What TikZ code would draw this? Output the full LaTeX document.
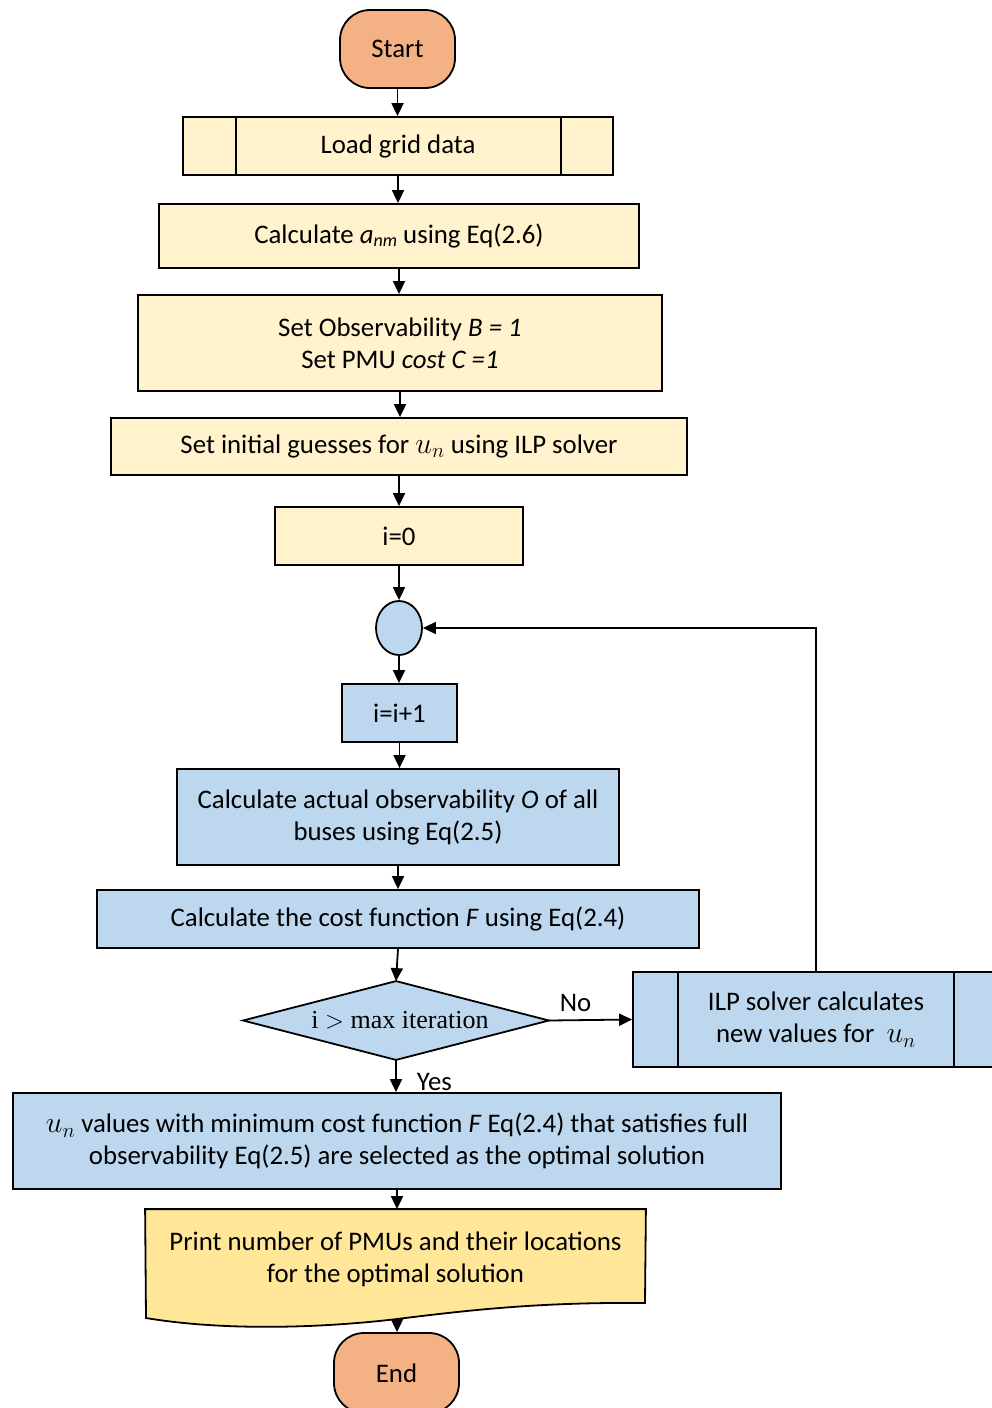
\documentclass[tikz,border=0pt]{standalone}
\usepackage{fontspec}
\setmainfont{Carlito}
\newfontfamily\timesface{Liberation Serif}
\usetikzlibrary{arrows.meta,shapes.geometric}

\definecolor{termfill}{HTML}{F4B183}
\definecolor{procfill}{HTML}{FFF2CC}
\definecolor{loopfill}{HTML}{BDD7EE}
\definecolor{docfill}{HTML}{FFE699}

% decision variable u_n, set a little larger than the text
\newcommand\uvar{\scalebox{1.2}{$u_n$}}

\begin{document}
\begin{tikzpicture}[x=1pt,y=-1pt,line width=1.8pt,
  >={Triangle[length=13pt,width=12pt]},
  font=\fontsize{26.8}{32}\selectfont,
  box/.style={draw,rectangle,inner sep=0pt,align=center},
  ybox/.style={box,fill=procfill},
  bbox/.style={box,fill=loopfill},
  term/.style={draw,rectangle,rounded corners=30pt,fill=termfill,inner sep=0pt,
    minimum width=115pt},
  plain/.style={inner sep=0pt,align=center},
  flow/.style={->}]

\useasboundingbox (0,0) rectangle (992,1408);
\clip (0,0) rectangle (992,1408);

% terminal: start
\node[term,minimum height=78pt] (start) at (397.5,49) {Start};

% predefined process: load data
\node[ybox,minimum width=430pt,minimum height=58pt] (load) at (398,146) {Load grid data};
\draw (load.north west) ++(54,0) -- ++(0,58);
\draw (load.north east) ++(-53,0) -- ++(0,58);

\node[ybox,minimum width=480pt,minimum height=64pt] (anm) at (399,236)
  {Calculate \textit{a}\raisebox{-3pt}{\fontsize{18}{18}\selectfont\textit{nm}} using Eq(2.6)};

\node[ybox,minimum width=524pt,minimum height=96pt] (obs) at (400,343)
  {Set Observability \textit{B = 1}\\Set PMU \textit{cost C =1}};

\node[ybox,minimum width=576pt,minimum height=57pt] (init) at (399,446.5)
  {Set initial guesses for \uvar{} using ILP solver};

\node[ybox,minimum width=248pt,minimum height=58pt] (izero) at (399,536) {i=0};

% loop junction
\node[draw,ellipse,fill=loopfill,minimum width=46pt,minimum height=54pt,inner sep=0pt]
  (join) at (399,628) {};

\node[bbox,minimum width=115pt,minimum height=58pt] (inc) at (399.5,713) {i=i+1};

\node[bbox,minimum width=442pt,minimum height=96pt] (actual) at (398,817)
  {Calculate actual observability \textit{O} of all\\buses using Eq(2.5)};

\node[bbox,minimum width=602pt,minimum height=58pt] (cost) at (398,919)
  {Calculate the cost function \textit{F} using Eq(2.4)};

% decision
\node[plain,minimum width=304pt,minimum height=77pt] (dec) at (396,1020.5) {};
\draw[fill=loopfill] (dec.west) -- (dec.north) -- (dec.east) -- (dec.south) -- cycle;
\node[plain,font=\timesface\fontsize{26}{30}\selectfont] at (400,1020) {i $>$ max iteration};

% predefined process: solver update
\node[bbox,minimum width=366pt,minimum height=95pt] (ilp) at (816,1019.5)
  {ILP solver calculates\\new values for ~\uvar};
\draw (ilp.north west) ++(46,0) -- ++(0,95);
\draw (ilp.north east) ++(-46,0) -- ++(0,95);

\node[bbox,minimum width=768pt,minimum height=96pt] (best) at (397,1141)
  {\uvar{} values with minimum cost function \textit{F} Eq(2.4) that satisfies full\\
   observability Eq(2.5) are selected as the optimal solution};

% document: print results
\node[plain,minimum width=499pt,minimum height=108pt] (print) at (395.5,1264) {};
\draw[fill=docfill] (print.north west) -- (print.north east) -- (645,1303)
  .. controls (540,1302) and (470,1310) .. (397,1319)
  .. controls (330,1327) and (230,1332) .. (146,1318) -- cycle;
\node[plain] at (395.5,1259) {Print number of PMUs and their locations\\for the optimal solution};
\coordinate (printbot) at (397,1319);

% terminal: end
\node[term,minimum width=125pt,minimum height=80pt] (stop) at (396.5,1373) {End};

% connectors
\draw[flow] (start.south) -- (start.south |- load.north);
\draw[flow] (load.south) -- (load.south |- anm.north);
\draw[flow] (anm.south) -- (anm.south |- obs.north);
\draw[flow] (obs.south) -- (obs.south |- init.north);
\draw[flow] (init.south) -- (init.south |- izero.north);
\draw[flow] (izero.south) -- (izero.south |- join.north);
\draw[flow] (join.south) -- (join.south |- inc.north);
\draw[flow] (inc.south) -- (inc.south |- actual.north);
\draw[flow] (actual.south) -- (actual.south |- cost.north);
\draw[flow] (cost.south) -- (dec.north);
\draw[flow] (dec.east) -- node[pos=0.32,above=8pt,plain]{No} (ilp.west);
\draw[flow] (ilp.north) |- (join.east);
\draw[flow] (dec.south) -- node[pos=0.7,right=20pt,plain]{Yes} (dec.south |- best.north);
\draw[flow] (best.south) -- (best.south |- print.north);
\draw[flow] (printbot) -- (printbot |- stop.north);
\end{tikzpicture}
\end{document}
